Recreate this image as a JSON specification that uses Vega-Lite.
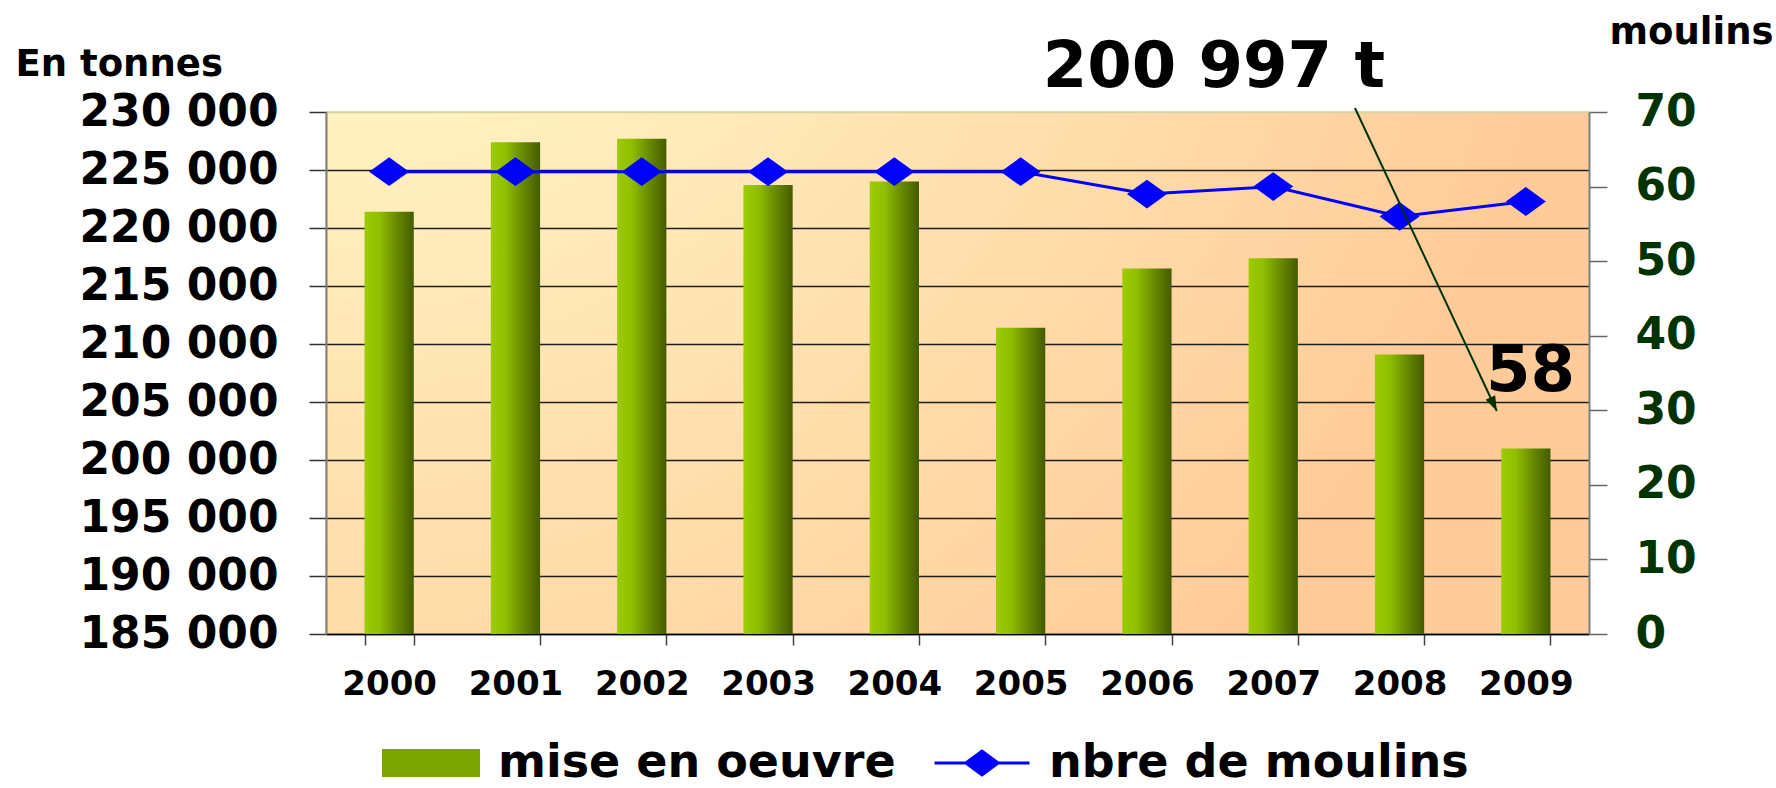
{
  "$schema": "https://vega.github.io/schema/vega-lite/v6.json",
  "width": 1263,
  "height": 522,
  "autosize": {"type": "none"},
  "padding": {"left": 326, "top": 112, "right": 187, "bottom": 154},
  "background": "white",
  "view": {
    "fill": {"gradient": "radial", "x1": 0, "y1": 0, "r1": 0, "x2": 0, "y2": 0, "r2": 1,
      "stops": [{"offset": 0, "color": "#FFFDCF"}, {"offset": 0.15, "color": "#FFF9C8"}, {"offset": 1, "color": "#FFCC99"}]},
    "stroke": "#D8D3A0",
    "strokeWidth": 1.5
  },
  "datasets": {
    "prod": [
      {"annee": "2000", "mise_en_oeuvre": 221400, "moulins": 62},
      {"annee": "2001", "mise_en_oeuvre": 227400, "moulins": 62},
      {"annee": "2002", "mise_en_oeuvre": 227700, "moulins": 62},
      {"annee": "2003", "mise_en_oeuvre": 223700, "moulins": 62},
      {"annee": "2004", "mise_en_oeuvre": 224000, "moulins": 62},
      {"annee": "2005", "mise_en_oeuvre": 211400, "moulins": 62},
      {"annee": "2006", "mise_en_oeuvre": 216500, "moulins": 59},
      {"annee": "2007", "mise_en_oeuvre": 217400, "moulins": 60},
      {"annee": "2008", "mise_en_oeuvre": 209100, "moulins": 56},
      {"annee": "2009", "mise_en_oeuvre": 200997, "moulins": 58}
    ],
    "arrow": [
      {"x": 8.147, "y": 230345, "x2": 9.27, "y2": 204224}
    ],
    "labels": [
      {"label": "200 997 t", "x": 8.385, "y": 232155},
      {"label": "58", "x": 9.889, "y": 205948}
    ]
  },
  "layer": [
    {
      "data": {"name": "prod"},
      "mark": {"type": "bar",
        "color": {"gradient": "linear", "x1": 0, "y1": 0, "x2": 1, "y2": 0,
          "stops": [{"offset": 0, "color": "#9CCC00"}, {"offset": 0.3, "color": "#90BE00"}, {"offset": 0.65, "color": "#678A00"}, {"offset": 1, "color": "#455B00"}]}},
      "encoding": {
        "x": {"field": "annee", "type": "ordinal",
          "scale": {"type": "band", "paddingInner": 0.61, "paddingOuter": 0.305},
          "axis": {"title": null, "labelAngle": 0, "tickBand": "extent", "tickSize": 11, "tickColor": "#444", "tickWidth": 1.5,
            "domainColor": "#000", "domainWidth": 1.5, "labelFont": "DejaVu Sans", "labelFontWeight": "bold",
            "labelFontSize": 34, "labelColor": "#000", "labelPadding": 22, "grid": false}},
        "y": {"field": "mise_en_oeuvre", "type": "quantitative",
          "scale": {"domain": [185000, 230000], "zero": false, "nice": false},
          "axis": {"title": "En tonnes", "titleAngle": 0, "titleAlign": "left", "titleBaseline": "alphabetic",
            "titleX": -311, "titleY": -37, "titleFont": "DejaVu Sans", "titleFontWeight": "bold", "titleFontSize": 37, "titleColor": "#000",
            "values": [185000, 190000, 195000, 200000, 205000, 210000, 215000, 220000, 225000, 230000],
            "labelExpr": "replace(format(datum.value, ','), ',', ' ')",
            "labelFont": "DejaVu Sans", "labelFontWeight": "bold", "labelFontSize": 44, "labelColor": "#000", "labelLimit": 1000,
            "labelPadding": 31, "labelBaseline": "middle", "tickSize": 17, "tickColor": "#333", "tickWidth": 1.5,
            "domainColor": "#7f7f7f", "domainWidth": 2,
            "grid": true, "gridWidth": 1.3,
            "gridColor": {"condition": {"test": "datum.value >= 230000", "value": "#D8D3A0"}, "value": "#1e1e1e"}}},
        "y2": {"datum": 185000}
      }
    },
    {
      "data": {"name": "prod"},
      "mark": {"type": "line", "strokeWidth": 3,
        "point": {"shape": "M-1,0L0,-0.72L1,0L0,0.72Z", "size": 1600, "filled": true, "opacity": 1}},
      "encoding": {
        "x": {"field": "annee", "type": "ordinal", "scale": {"type": "point", "padding": 0.5}, "axis": null},
        "y": {"field": "moulins", "type": "quantitative",
          "scale": {"domain": [0, 70], "zero": false, "nice": false},
          "axis": {"orient": "right", "title": "moulins", "titleAngle": 0, "titleAlign": "left", "titleBaseline": "alphabetic",
            "titleX": 20, "titleY": -69, "titleFont": "DejaVu Sans", "titleFontWeight": "bold", "titleFontSize": 37, "titleColor": "#000",
            "values": [0, 10, 20, 30, 40, 50, 60, 70],
            "labelFont": "DejaVu Sans", "labelFontWeight": "bold", "labelFontSize": 44, "labelColor": "#003300", "labelLimit": 1000,
            "labelPadding": 28, "labelBaseline": "middle", "tickSize": 18, "tickColor": "#666", "tickWidth": 1.5,
            "domainColor": "#7f7f7f", "domainWidth": 2, "grid": false}},
        "color": {"datum": "nbre de moulins", "type": "nominal",
          "scale": {"domain": ["mise en oeuvre", "nbre de moulins"], "range": ["#7CA400", "#0000ff"]},
          "legend": {"orient": "none", "legendX": 56, "legendY": 602, "direction": "horizontal", "title": null,
            "padding": 0, "columnPadding": 32, "labelOffset": 18, "labelLimit": 1000,
            "labelFont": "DejaVu Sans", "labelFontWeight": "bold", "labelFontSize": 46, "labelColor": "#000",
            "symbolSize": 9025, "symbolStrokeWidth": 3,
            "encode": {"symbols": {"update": {
              "shape": {"signal": "datum.value === 'mise en oeuvre' ? 'M-1,-0.263H1V0.263H-1Z' : 'M-1,0H1M-0.34,0L0,-0.25L0.34,0L0,0.25Z'"},
              "strokeWidth": {"value": 3},
              "opacity": {"value": 1},
              "fillOpacity": {"value": 1}
            }}}}
        }
      }
    },
    {
      "data": {"name": "arrow"},
      "mark": {"type": "rule", "color": "#003300", "strokeWidth": 2},
      "encoding": {
        "x": {"field": "x", "type": "quantitative", "scale": {"domain": [0, 10], "nice": false, "zero": false}, "axis": null},
        "y": {"field": "y", "type": "quantitative", "scale": {"domain": [185000, 230000], "nice": false, "zero": false}, "axis": null},
        "x2": {"field": "x2"},
        "y2": {"field": "y2"}
      }
    },
    {
      "data": {"name": "arrow"},
      "mark": {"type": "point", "shape": "M0,0L-0.107,-1.053L-0.741,-0.757Z", "size": 900, "filled": true, "color": "#003300", "opacity": 1},
      "encoding": {
        "x": {"field": "x2", "type": "quantitative", "scale": {"domain": [0, 10], "nice": false, "zero": false}, "axis": null},
        "y": {"field": "y2", "type": "quantitative", "scale": {"domain": [185000, 230000], "nice": false, "zero": false}, "axis": null}
      }
    },
    {
      "data": {"name": "labels"},
      "mark": {"type": "text", "font": "DejaVu Sans", "fontWeight": "bold", "fontSize": 64, "align": "right", "baseline": "alphabetic", "color": "#000"},
      "encoding": {
        "x": {"field": "x", "type": "quantitative", "scale": {"domain": [0, 10], "nice": false, "zero": false}, "axis": null},
        "y": {"field": "y", "type": "quantitative", "scale": {"domain": [185000, 230000], "nice": false, "zero": false}, "axis": null},
        "text": {"field": "label"}
      }
    }
  ],
  "resolve": {"scale": {"x": "independent", "y": "independent"}}
}
